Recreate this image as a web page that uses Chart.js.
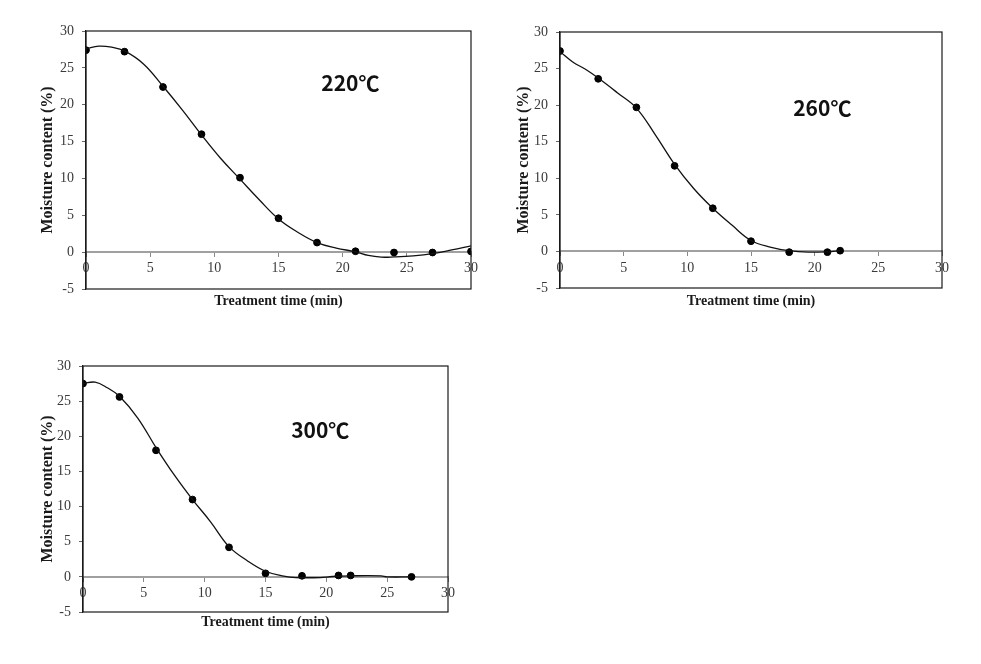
<!DOCTYPE html>
<html><head><meta charset="utf-8">
<script src="https://cdn.jsdelivr.net/npm/chart.js@4/dist/chart.umd.min.js"></script>
<style>
html,body{margin:0;padding:0;background:#fff;width:981px;height:664px;overflow:hidden}
.c{position:absolute}
</style></head><body>
<div class="c" style="left:0;top:0"><canvas id="c1" width="490" height="320"></canvas></div>
<div class="c" style="left:490px;top:0"><canvas id="c2" width="491" height="320"></canvas></div>
<div class="c" style="left:0;top:330px"><canvas id="c3" width="490" height="320"></canvas></div>
<script>
// ---- data ----
const xTicks = [0, 5, 10, 15, 20, 25, 30];
const yTicks = [-5, 0, 5, 10, 15, 20, 25, 30];

const time220 = [0, 3, 6, 9, 12, 15, 18, 21, 24, 27, 30];
const moist220 = [27.4, 27.2, 22.4, 16.0, 10.1, 4.6, 1.3, 0.12, -0.05, -0.05, 0.1];
const fitTime220 = [0, 1, 2, 3, 4.5, 6, 7.5, 9, 10.5, 12, 13.5, 15, 16.5, 18, 19.5, 21, 22, 23, 24, 25.5, 27, 28.5, 30];
const fitMoist220 = [27.6, 27.95, 27.8, 27.3, 25.5, 22.5, 19.3, 15.9, 12.7, 9.9, 7.1, 4.5, 2.7, 1.3, 0.55, 0.05, -0.45, -0.68, -0.65, -0.5, -0.2, 0.3, 0.85];

const time260 = [0, 3, 6, 9, 12, 15, 18, 21, 22];
const moist260 = [27.4, 23.6, 19.7, 11.7, 5.9, 1.4, -0.1, -0.1, 0.1];
const fitTime260 = [0, 1, 2, 3, 4.5, 6, 7.5, 9, 10.5, 12, 13.5, 15, 16.5, 18, 19.5, 21, 22];
const fitMoist260 = [27.3, 25.9, 24.9, 23.7, 21.7, 19.6, 15.9, 11.9, 8.6, 5.9, 3.6, 1.5, 0.6, 0.1, -0.1, -0.05, 0.1];

const time300 = [0, 3, 6, 9, 12, 15, 18, 21, 22, 27];
const moist300 = [27.5, 25.6, 18.0, 11.0, 4.2, 0.5, 0.15, 0.2, 0.2, 0.0];
const fitTime300 = [0, 1, 2, 3, 4.5, 6, 7.5, 9, 10.5, 12, 13.5, 15, 16.5, 17.5, 19.5, 20.5, 22, 24.5, 25, 27];
const fitMoist300 = [27.5, 27.7, 26.9, 25.7, 22.6, 18.4, 14.5, 11.0, 7.8, 4.3, 2.3, 0.8, 0.1, -0.1, -0.1, 0.05, 0.15, 0.15, 0.0, 0.0];

const labels = ['220℃', '260℃', '300℃'];
const yTitle = 'Moisture content (%)';
const xTitle = 'Treatment time (min)';

// ---- plugins ----
const framePlugin = {
  id: 'frame',
  afterDatasetsDraw(chart) {
    const {ctx, chartArea: a} = chart;
    ctx.save();
    ctx.strokeStyle = '#1a1a1a';
    ctx.lineWidth = 1.2;
    ctx.strokeRect(a.left, a.top, a.right - a.left, a.bottom - a.top);
    ctx.restore();
  }
};
const tempLabelPlugin = {
  id: 'tempLabel',
  afterDraw(chart, args, opts) {
    const {ctx, scales} = chart;
    ctx.save();
    ctx.font = 'bold 21px "Noto Sans CJK KR", "Noto Sans", sans-serif';
    ctx.fillStyle = '#111';
    ctx.textAlign = 'center';
    ctx.textBaseline = 'middle';
    ctx.fillText(opts.text, scales.x.getPixelForValue(opts.x), scales.y.getPixelForValue(opts.y));
    ctx.restore();
  }
};

const pts = (xs, ys) => xs.map((x, i) => ({x, y: ys[i]}));

function make(id, cfg) {
  const tickFont = {family: '"Liberation Serif", "Times New Roman", serif', size: 14};
  const titleFont = {family: '"Liberation Serif", "Times New Roman", serif', size: 14, weight: 'bold'};
  new Chart(document.getElementById(id), {
    type: 'scatter',
    data: {
      datasets: [
        {
          data: pts(cfg.fitX, cfg.fitY), showLine: true, pointRadius: 0,
          borderColor: '#111', borderWidth: 1.3, tension: 0.4, fill: false
        },
        {
          data: pts(cfg.x, cfg.y), showLine: false, pointStyle: 'circle', pointRadius: 3.4,
          backgroundColor: '#000', borderColor: '#000', borderWidth: 1
        }
      ]
    },
    options: {
      responsive: false, animation: false, devicePixelRatio: 1,
      layout: {padding: cfg.pad},
      plugins: {
        legend: {display: false}, tooltip: {enabled: false},
        tempLabel: {text: cfg.label, x: cfg.lx, y: cfg.ly}
      },
      scales: {
        x: {
          type: 'linear', position: {y: 0}, min: 0, max: 30,
          afterBuildTicks: s => { s.ticks = xTicks.map(v => ({value: v})); },
          afterFit: s => { s.height = 0; },
          ticks: {font: tickFont, color: '#3a3a3a', padding: 4, autoSkip: false, maxRotation: 0},
          grid: {display: true, drawOnChartArea: false, drawTicks: true, tickLength: 4, color: '#888'},
          border: {display: true, color: '#a0a0a0', width: 2}
        },
        x2: {
          type: 'linear', position: 'bottom', min: 0, max: 30,
          afterFit: s => { s.height = cfg.x2h; },
          ticks: {display: false}, grid: {display: false, drawTicks: false},
          border: {display: false},
          title: {display: true, text: xTitle, font: titleFont, color: '#1a1a1a', padding: 4}
        },
        y: {
          type: 'linear', position: 'left', min: -5, max: 30,
          afterBuildTicks: s => { s.ticks = yTicks.map(v => ({value: v})); },
          afterFit: s => { s.width = cfg.yw; },
          ticks: {font: tickFont, color: '#3a3a3a', padding: 8},
          grid: {display: true, drawOnChartArea: false, drawTicks: true, tickLength: 4, color: '#666'},
          border: {display: true, color: '#1a1a1a', width: 1.2},
          title: {display: true, text: yTitle, font: {family: titleFont.family, size: 16, weight: 'bold'}, color: '#1a1a1a', padding: 4}
        }
      }
    },
    plugins: [framePlugin, tempLabelPlugin]
  });
}

make('c1', {x: time220, y: moist220, fitX: fitTime220, fitY: fitMoist220, label: labels[0], lx: 20.6, ly: 22.9,
  pad: {left: 34, right: 19, top: 31, bottom: 6}, yw: 52, x2h: 25});
make('c2', {x: time260, y: moist260, fitX: fitTime260, fitY: fitMoist260, label: labels[1], lx: 20.6, ly: 19.6,
  pad: {left: 20, right: 39, top: 32, bottom: 6}, yw: 50, x2h: 26});
make('c3', {x: time300, y: moist300, fitX: fitTime300, fitY: fitMoist300, label: labels[2], lx: 19.5, ly: 20.9,
  pad: {left: 34, right: 42, top: 36, bottom: 15}, yw: 49, x2h: 23});
</script>
</body></html>
